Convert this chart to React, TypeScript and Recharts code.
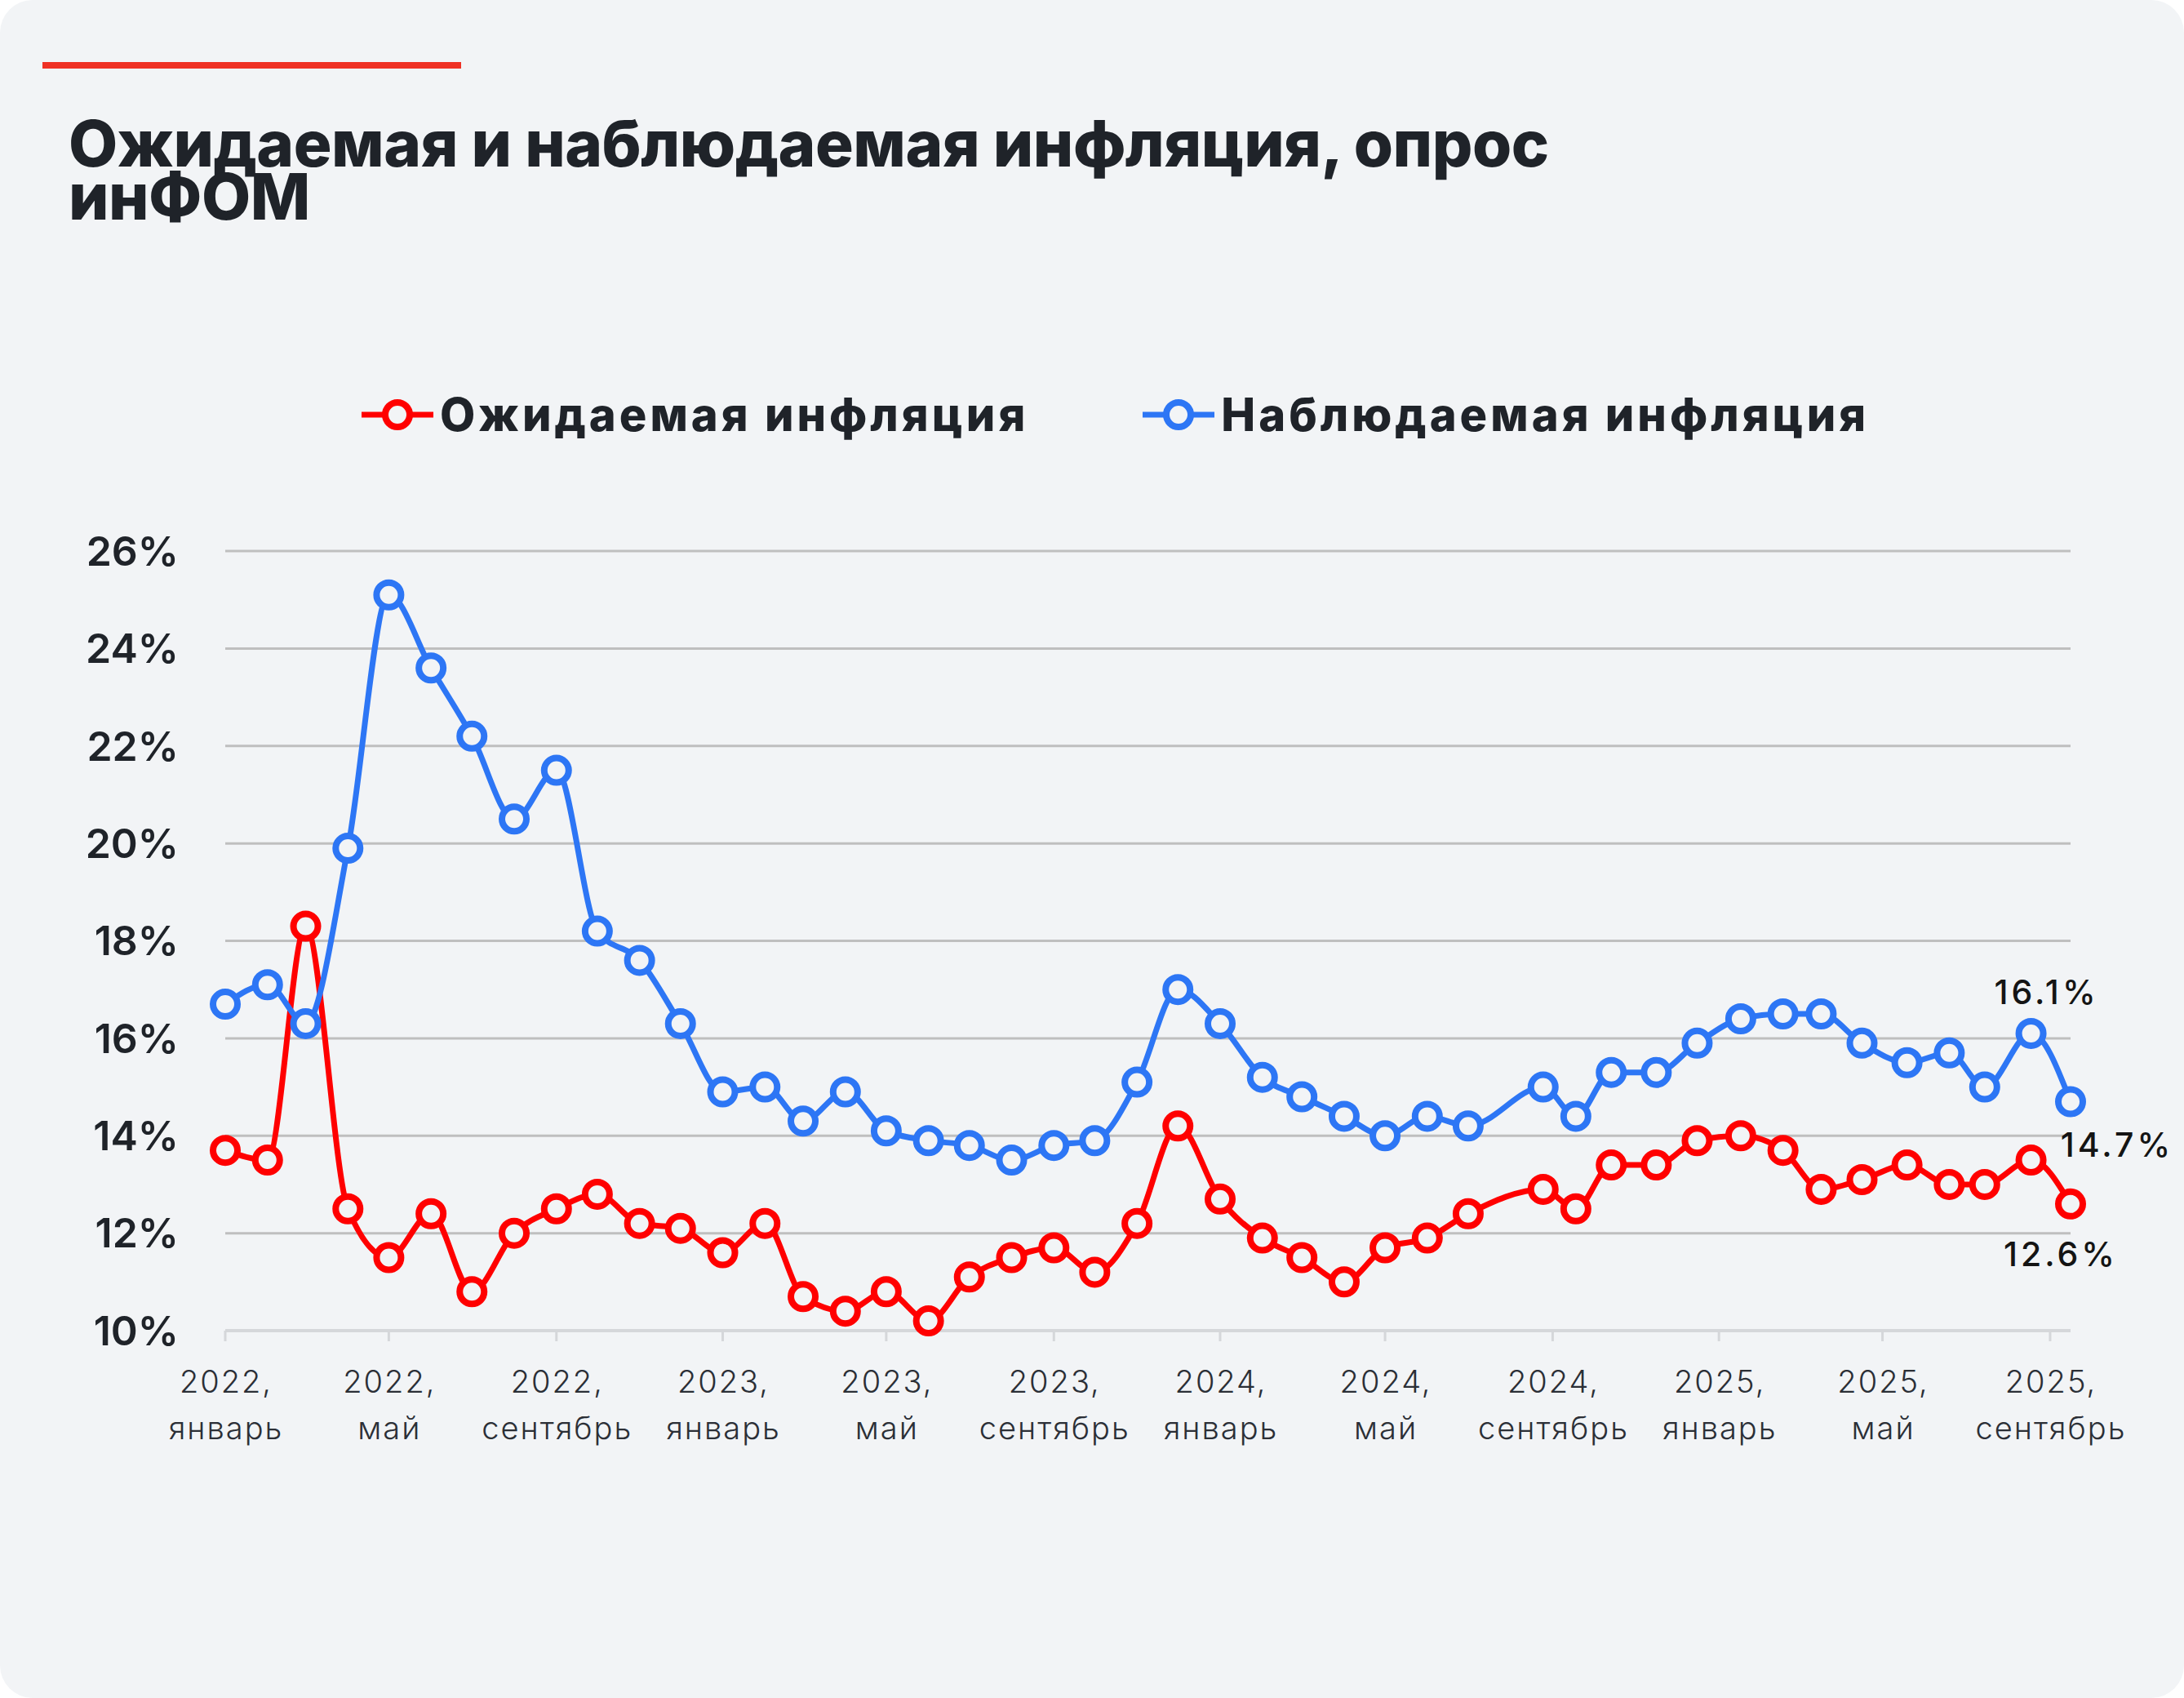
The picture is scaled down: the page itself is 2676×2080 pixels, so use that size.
import React from "react";
import { LineChart, Line, XAxis, YAxis, CartesianGrid, Legend } from "recharts";

// даты опросов (по картинке: до середины 2024 — начало месяца, потом середина)
const DATES = [
  "2022-01-01", "2022-02-01", "2022-03-01", "2022-04-01", "2022-05-01", "2022-06-01",
  "2022-07-01", "2022-08-01", "2022-09-01", "2022-10-01", "2022-11-01", "2022-12-01",
  "2023-01-01", "2023-02-01", "2023-03-01", "2023-04-01", "2023-05-01", "2023-06-01",
  "2023-07-01", "2023-08-01", "2023-09-01", "2023-10-01", "2023-11-01", "2023-12-01",
  "2024-01-01", "2024-02-01", "2024-03-01", "2024-04-01", "2024-05-01", "2024-06-01",
  "2024-07-01", "2024-08-25", "2024-09-18", "2024-10-14", "2024-11-16", "2024-12-16",
  "2025-01-17", "2025-02-17", "2025-03-17", "2025-04-16", "2025-05-19", "2025-06-19",
  "2025-07-15", "2025-08-18", "2025-09-16",
];

const EXPECTED = [
  13.7, 13.5, 18.3, 12.5, 11.5, 12.4, 10.8, 12.0, 12.5, 12.8, 12.2, 12.1,
  11.6, 12.2, 10.7, 10.4, 10.8, 10.2, 11.1, 11.5, 11.7, 11.2, 12.2, 14.2,
  12.7, 11.9, 11.5, 11.0, 11.7, 11.9, 12.4, 12.9, 12.5, 13.4, 13.4, 13.9,
  14.0, 13.7, 12.9, 13.1, 13.4, 13.0, 13.0, 13.5, 12.6,
];

const OBSERVED = [
  16.7, 17.1, 16.3, 19.9, 25.1, 23.6, 22.2, 20.5, 21.5, 18.2, 17.6, 16.3,
  14.9, 15.0, 14.3, 14.9, 14.1, 13.9, 13.8, 13.5, 13.8, 13.9, 15.1, 17.0,
  16.3, 15.2, 14.8, 14.4, 14.0, 14.4, 14.2, 15.0, 14.4, 15.3, 15.3, 15.9,
  16.4, 16.5, 16.5, 15.9, 15.5, 15.7, 15.0, 16.1, 14.7,
];

const SERIES_NAMES = ["Ожидаемая инфляция", "Наблюдаемая инфляция"];

const TICK_DATES = [
  "2022-01-01", "2022-05-01", "2022-09-01", "2023-01-01", "2023-05-01", "2023-09-01",
  "2024-01-01", "2024-05-01", "2024-09-01", "2025-01-01", "2025-05-01", "2025-09-01",
];

const TICK_LABELS = [
  "2022, январь", "2022, май", "2022, сентябрь",
  "2023, январь", "2023, май", "2023, сентябрь",
  "2024, январь", "2024, май", "2024, сентябрь",
  "2025, январь", "2025, май", "2025, сентябрь",
];

const Y_TICKS = [10, 12, 14, 16, 18, 20, 22, 24, 26];

const RED = "#ff0000";
const BLUE = "#2d76f5";
const BG = "#f2f4f6";
const TEXT = "#1f2329";
const FONT = "Inter, 'Noto Sans', sans-serif";

const data = DATES.map((d, i) => ({
  t: Date.parse(d),
  expected: EXPECTED[i],
  observed: OBSERVED[i],
}));
const ticks = TICK_DATES.map((d) => Date.parse(d));

function DateTick(props: any) {
  const { x, y, payload } = props;
  const i = ticks.indexOf(payload.value);
  const [year, month] = (TICK_LABELS[i] ?? "").split(", ");
  const common = {
    textAnchor: "middle" as const,
    dominantBaseline: "central" as const,
    fontFamily: FONT,
    fontSize: 38,
    fontWeight: 300,
    letterSpacing: 2,
    fill: "#2b2f36",
  };
  return (
    <g transform={`translate(${x},${y})`}>
      <text x={1} y={49} {...common}>{year},</text>
      <text x={1} y={106} {...common}>{month}</text>
    </g>
  );
}

// подписи последних значений
function pointLabel(notes: { index: number; dx: number; dy: number }[]) {
  return (props: any) => {
    const note = notes.find((n) => n.index === props.index);
    if (!note) return <g key={`n-${props.index}`} />;
    return (
      <text
        key={`l-${props.index}`}
        x={props.x + note.dx}
        y={props.y + note.dy}
        textAnchor="middle"
        dominantBaseline="central"
        fontFamily={FONT}
        fontSize={41}
        fontWeight={500}
        letterSpacing={4}
        fill="#141414"
      >
        {`${Number(props.value).toFixed(1)}%`}
      </text>
    );
  };
}

function LegendContent(props: any) {
  const items = [...(props.payload ?? [])].sort(
    (a: any, b: any) => SERIES_NAMES.indexOf(a.value) - SERIES_NAMES.indexOf(b.value)
  );
  return (
    <div style={{ display: "flex", alignItems: "center", paddingLeft: 443, height: 76 }}>
      {items.map((it: any, i: number) => (
        <div key={i} style={{ display: "flex", alignItems: "center", marginRight: 140 }}>
          <svg width={88} height={44} style={{ display: "block" }}>
            <line x1={0} y1={22} x2={88} y2={22} stroke={it.color} strokeWidth={7} />
            <circle cx={44} cy={22} r={15} fill={BG} stroke={it.color} strokeWidth={8} />
          </svg>
          <span
            style={{
              marginLeft: 8,
              fontFamily: FONT,
              fontWeight: 800,
              fontSize: 56,
              letterSpacing: 4,
              color: TEXT,
              lineHeight: "76px",
            }}
          >
            {it.value}
          </span>
        </div>
      ))}
    </div>
  );
}

const titleStyle: React.CSSProperties = {
  position: "absolute",
  left: 84,
  width: 2000,
  whiteSpace: "nowrap",
  fontFamily: FONT,
  fontWeight: 800,
  fontSize: 78,
  lineHeight: "65px",
  letterSpacing: -0.5,
  color: TEXT,
};

export default function App() {
  return (
    <div style={{ position: "relative", width: 2676, height: 2080, background: BG, borderRadius: 40, overflow: "hidden" }}>
      <style>{"body{margin:0;background:#ffffff}"}</style>
      <div style={{ position: "absolute", left: 52, top: 76, width: 513, height: 8, background: "#ef3124" }} />
      <div style={{ ...titleStyle, top: 143 }}>Ожидаемая и наблюдаемая инфляция, опрос</div>
      <div style={{ ...titleStyle, top: 208 }}>инФОМ</div>
      <div style={{ position: "absolute", left: 0, top: 0 }}>
        <LineChart width={2676} height={1800} data={data} margin={{ top: 675, right: 139, left: 0, bottom: 0 }}>
          <CartesianGrid horizontal vertical={false} stroke="#bfbfbf" strokeWidth={3} />
          <XAxis
            dataKey="t"
            type="number"
            domain={["dataMin", "dataMax"]}
            ticks={ticks}
            interval={0}
            height={170}
            tick={<DateTick />}
            tickSize={13}
            tickMargin={0}
            tickLine={{ stroke: "#d5d7da", strokeWidth: 3 }}
            axisLine={{ stroke: "#d5d7da", strokeWidth: 4 }}
          />
          <YAxis
            domain={[10, 26]}
            ticks={Y_TICKS}
            width={276}
            axisLine={false}
            tickLine={false}
            tickSize={0}
            tickMargin={57}
            tickFormatter={(v: number) => `${v}%`}
            tick={{ fontFamily: FONT, fontSize: 50, fontWeight: 600, fill: TEXT }}
          />
          <Legend
            verticalAlign="middle"
            layout="horizontal"
            wrapperStyle={{ top: 470, left: 0, width: 2676 }}
            content={<LegendContent />}
          />
          <Line
            name={SERIES_NAMES[0]}
            dataKey="expected"
            type="monotone"
            stroke={RED}
            strokeWidth={7}
            dot={{ r: 15, strokeWidth: 8, fill: BG, stroke: RED }}
            activeDot={false}
            isAnimationActive={false}
            label={pointLabel([{ index: 44, dx: -12, dy: 61 }])}
          />
          <Line
            name={SERIES_NAMES[1]}
            dataKey="observed"
            type="monotone"
            stroke={BLUE}
            strokeWidth={7}
            dot={{ r: 15, strokeWidth: 8, fill: BG, stroke: BLUE }}
            activeDot={false}
            isAnimationActive={false}
            label={pointLabel([
              { index: 43, dx: 19, dy: -51 },
              { index: 44, dx: 57, dy: 53 },
            ])}
          />
        </LineChart>
      </div>
    </div>
  );
}
